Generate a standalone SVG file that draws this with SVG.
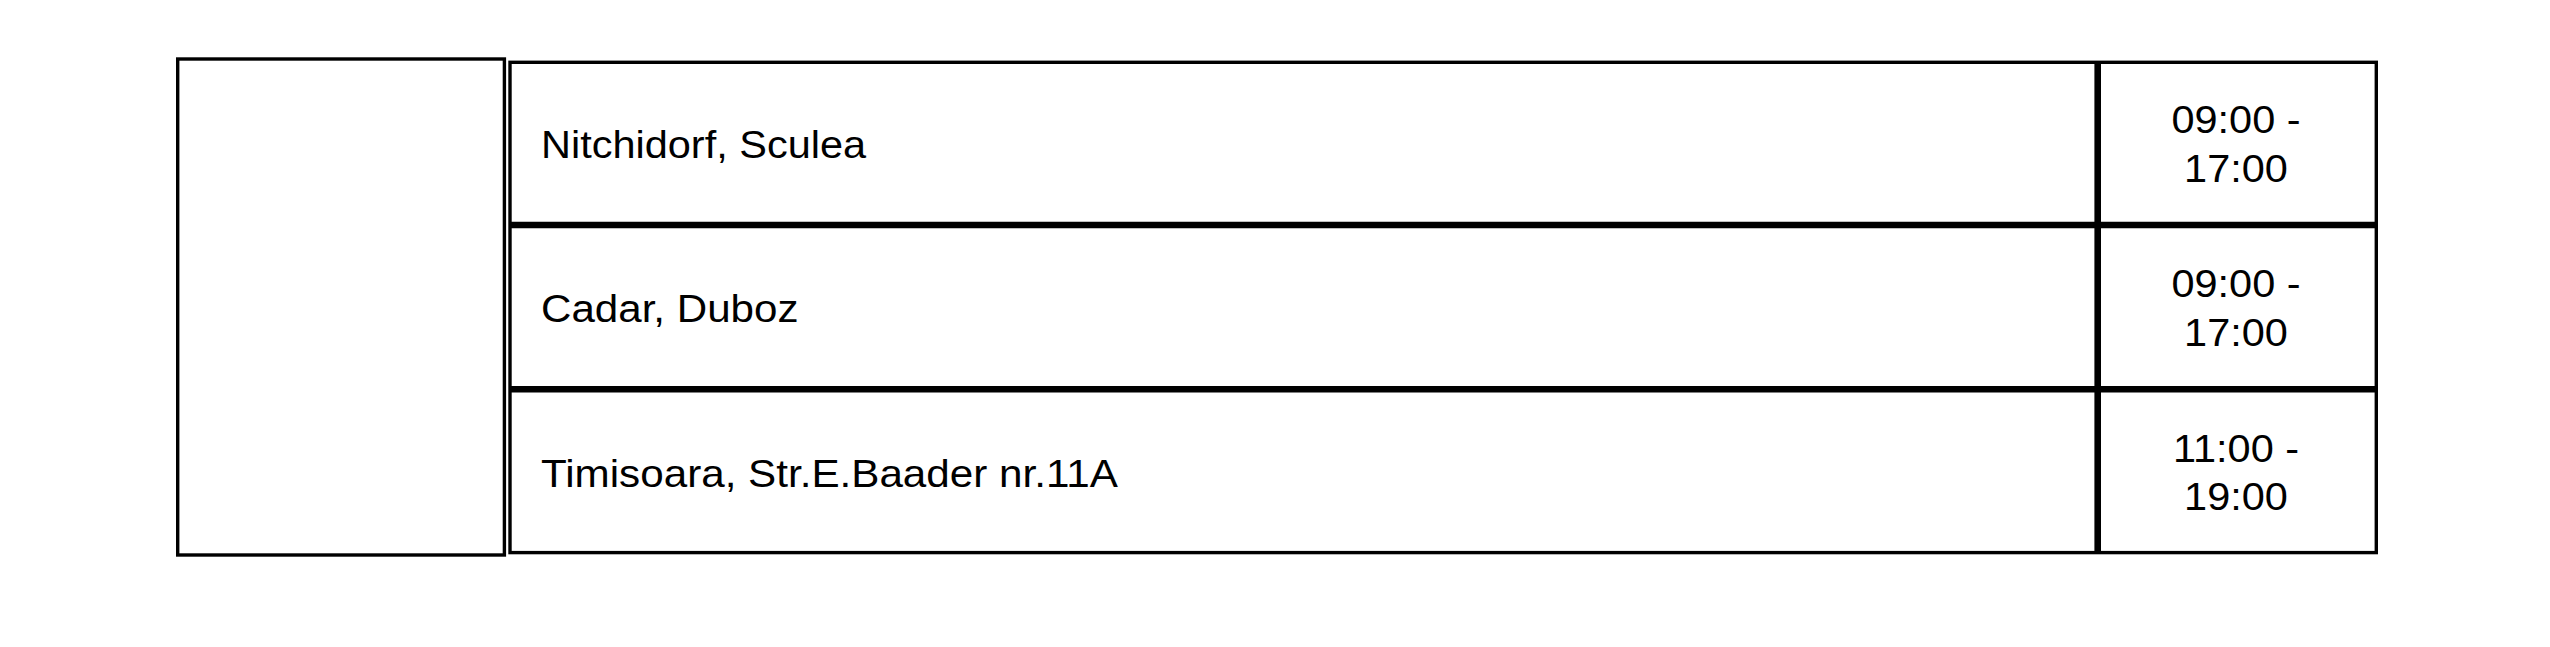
<svg xmlns="http://www.w3.org/2000/svg" width="2550" height="647" viewBox="0 0 2550 647">
<style>
.frame{fill:none;stroke:#000;stroke-width:3.4}
.thick{fill:none;stroke:#000;stroke-width:6.6}
.t{font-family:"Liberation Sans",Arial,sans-serif;font-size:39px;fill:#000}
.c{text-anchor:middle}
</style>
<rect x="0" y="0" width="2550" height="647" fill="#fff"/>
<g id="left-box">
<rect class="frame" x="177.7" y="59" width="326.7" height="496"/>
</g>
<g id="table">
<rect class="frame" x="510" y="62.3" width="1866.3" height="490.3"/>
<line class="thick" x1="510" y1="225" x2="2376.3" y2="225"/>
<line class="thick" x1="510" y1="389.3" x2="2376.3" y2="389.3"/>
<line class="thick" x1="2097.7" y1="62.3" x2="2097.7" y2="552.6"/>
</g>
<g id="row1">
<text class="t" transform="translate(541,158.3) scale(1.064,1)">Nitchidorf, Sculea</text>
<text class="t c" transform="translate(2236,133.3) scale(1.064,1)">09:00 -</text>
<text class="t c" transform="translate(2236,181.7) scale(1.064,1)">17:00</text>
</g>
<g id="row2">
<text class="t" transform="translate(541,322.3) scale(1.08,1)">Cadar, Duboz</text>
<text class="t c" transform="translate(2236,296.7) scale(1.064,1)">09:00 -</text>
<text class="t c" transform="translate(2236,345.5) scale(1.064,1)">17:00</text>
</g>
<g id="row3">
<text class="t" transform="translate(541,487.3) scale(1.082,1)">Timisoara, Str.E.Baader nr.11A</text>
<text class="t c" transform="translate(2236,461.7) scale(1.064,1)">11:00 -</text>
<text class="t c" transform="translate(2236,510) scale(1.064,1)">19:00</text>
</g>
<g id="connectors"></g>
</svg>
